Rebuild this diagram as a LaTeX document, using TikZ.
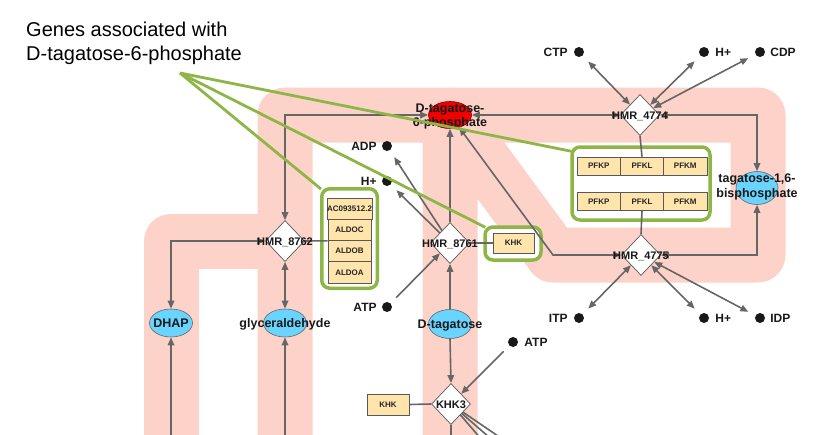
\documentclass[tikz,border=0pt]{standalone}
\usepackage{fontspec}
\setmainfont{Liberation Sans}
\usetikzlibrary{shapes.geometric,arrows.meta,positioning,calc}
\definecolor{pinkbg}{RGB}{253,210,200}
\definecolor{edgegray}{RGB}{102,102,102}
\definecolor{genefill}{RGB}{255,228,172}
\definecolor{groupgreen}{RGB}{141,182,70}
\definecolor{metblue}{RGB}{104,212,255}
\definecolor{metred}{RGB}{240,0,0}
\pgfdeclarelayer{bglayer}
\pgfdeclarelayer{grplayer}
\pgfdeclarelayer{edgelayer}
\pgfdeclarelayer{toplayer}
\pgfsetlayers{bglayer,grplayer,edgelayer,main,toplayer}
\begin{document}
\begin{tikzpicture}[x=1pt,y=-1pt,
  >={Triangle[length=8pt,width=6.5pt]},
  rxn/.style={diamond, draw=black!65, fill=white, minimum width=39pt, minimum height=41pt, inner sep=0pt, line width=0.7pt},
  rlab/.style={font=\bfseries\fontsize{11}{12}\selectfont, text=black!90, inner sep=0pt, anchor=base},
  met/.style={ellipse, draw=black!60, fill=metblue, minimum width=43pt, minimum height=28pt, inner sep=0pt, line width=0.6pt},
  mlab/.style={font=\bfseries\fontsize{12.5}{14}\selectfont, text=black!90, inner sep=0pt, align=center},
  dotn/.style={circle, fill=black!90, minimum size=10pt, inner sep=0pt},
  slab/.style={font=\bfseries\fontsize{12}{14}\selectfont, text=black!90, inner sep=0pt},
  gene/.style={rectangle, draw=black!65, fill=genefill, minimum width=43pt, minimum height=21.25pt, inner sep=0pt, font=\bfseries\fontsize{8}{9}\selectfont, text=black!85, line width=0.6pt},
  grp/.style={rectangle, rounded corners=8pt, draw=groupgreen, line width=3.5pt, fill=white, inner sep=0pt},
  ed/.style={draw=edgegray, line width=1.6pt},
  gline/.style={draw=groupgreen, line width=2.8pt},
  pinkpath/.style={draw=pinkbg, line width=55pt, line join=round}
]
\useasboundingbox (0,0) rectangle (837,434);

% ---------- title ----------
\node[anchor=base west, inner sep=0pt, font=\fontsize{20}{24}\selectfont] (title1) at (26,36) {Genes associated with};
\node[anchor=base west, inner sep=0pt, font=\fontsize{20}{24}\selectfont] (title2) at (26,60) {D-tagatose-6-phosphate};

% ---------- reactions ----------
\node[rxn] (r4774) at (640,115) {};
\node[rxn] (r4775) at (641,255) {};
\node[rxn] (r8762) at (285,241) {};
\node[rxn] (r8761) at (450,243) {};
\node[rxn] (khk3) at (451,404) {};
\node[rlab] (r4774L) at (640,119) {HMR\_4774};
\node[rlab] (r4775L) at (641,259) {HMR\_4775};
\node[rlab] (r8762L) at (285,245) {HMR\_8762};
\node[rlab] (r8761L) at (450,247) {HMR\_8761};
\node[rlab] (khk3L) at (451,408) {KHK3};

% ---------- metabolites ----------
\node[met, fill=metred, draw=red!50!black, minimum height=27pt] (t6p) at (450,115) {};
\node[met, minimum width=42pt, minimum height=33pt] (t16bp) at (757,188) {};
\node[met] (dhap) at (171,323) {};
\node[met] (glyc) at (285,323) {};
\node[met, minimum height=29pt] (dtag) at (450,324) {};
\node[mlab] (t6pL) at (450,116) {D-tagatose-\\6-phosphate};
\node[mlab, font=\bfseries\fontsize{12.5}{15}\selectfont] (t16bpL) at (757,187) {tagatose-1,6-\\bisphosphate};
\node[mlab, anchor=base] (dhapL) at (171,327.5) {DHAP};
\node[mlab, anchor=base] (glycL) at (285,327.5) {glyceraldehyde};
\node[mlab, anchor=base] (dtagL) at (450,328.5) {D-tagatose};

% ---------- small molecules ----------
\node[dotn] (ctp) at (579,52) {};
\node[dotn] (hp1) at (704,52) {};
\node[dotn] (cdp) at (760,52) {};
\node[dotn] (adp) at (387,146) {};
\node[dotn] (hp2) at (387,181) {};
\node[dotn] (atp1) at (387,307) {};
\node[dotn] (itp) at (579,318) {};
\node[dotn] (hp3) at (704,318) {};
\node[dotn] (idp) at (760,318) {};
\node[dotn] (atp2) at (513,342) {};
\node[slab, left=6pt of ctp] (ctpL) {CTP};
\node[slab, right=6pt of hp1] (hp1L) {H+};
\node[slab, right=5pt of cdp] (cdpL) {CDP};
\node[slab, left=5pt of adp] (adpL) {ADP};
\node[slab, left=5pt of hp2] (hp2L) {H+};
\node[slab, left=5pt of atp1] (atp1L) {ATP};
\node[slab, left=6pt of itp] (itpL) {ITP};
\node[slab, right=6pt of hp3] (hp3L) {H+};
\node[slab, right=5pt of idp] (idpL) {IDP};
\node[slab, right=6pt of atp2] (atp2L) {ATP};

% ---------- gene groups ----------
\begin{pgfonlayer}{grplayer}
\node[grp, minimum width=55.5pt, minimum height=99.5pt] (aldogrp) at (349.5,238.5) {};
\node[grp, minimum width=56pt, minimum height=33pt] (khkgrp) at (513,243.5) {};
\node[grp, minimum width=138pt, minimum height=73pt] (pfkgrp) at (641,183.5) {};
\end{pgfonlayer}

\node[gene] (aldo1) at (349.5,208.6) {AC093512.2};
\node[gene] (aldo2) at (349.5,229.9) {ALDOC};
\node[gene] (aldo3) at (349.5,251.1) {ALDOB};
\node[gene] (aldo4) at (349.5,272.4) {ALDOA};
\node[gene, minimum width=41pt, minimum height=20pt] (khk1) at (513.5,243) {KHK};
\node[gene, minimum width=42pt] (khk2) at (388,404.5) {KHK};
\node[gene, minimum width=43.3pt, minimum height=18pt] (pfkp1) at (598.7,166) {PFKP};
\node[gene, minimum width=43.3pt, minimum height=18pt] (pfkl1) at (642,166) {PFKL};
\node[gene, minimum width=43.3pt, minimum height=18pt] (pfkm1) at (685.3,166) {PFKM};
\node[gene, minimum width=43.3pt, minimum height=18pt] (pfkp2) at (598.7,201.5) {PFKP};
\node[gene, minimum width=43.3pt, minimum height=18pt] (pfkl2) at (642,201.5) {PFKL};
\node[gene, minimum width=43.3pt, minimum height=18pt] (pfkm2) at (685.3,201.5) {PFKM};

% ---------- free-end coordinates ----------
\coordinate (bend1) at (553,255);
\coordinate (dhapbot) at (171,445);
\coordinate (glycbot) at (285,445);
\coordinate (k3v) at (451,445);
\coordinate (k3a) at (482,440);
\coordinate (k3b) at (490,438);
\coordinate (k3c) at (498,436);
\coordinate (gsrc) at (180,73);

% ---------- pink pathway background ----------
\begin{pgfonlayer}{bglayer}
\draw[pinkpath] (171,460) -- (171,241) -- (285,241);
\draw[pinkpath] (285,460) -- (285,115) -- (758,115) -- (758,255) -- (553,255) -- (450,115) -- (450,460);
\end{pgfonlayer}

% ---------- connectors ----------
\begin{pgfonlayer}{edgelayer}
% HMR_4774
\draw[ed, <->, shorten <=8pt] (ctp) -- (r4774);
\draw[ed, <->, shorten <=8pt] (hp1) -- (r4774);
\draw[ed, <->, shorten <=8pt] (cdp) -- (r4774);
\draw[ed, <->] (t6p.east) -- (r4774.west);
\draw[ed, <->] (r4774.east) -| (t16bp.north);
\draw[ed] (r4774.south) -- (pfkl1.north);
% HMR_4775
\draw[ed] (pfkl2.south) -- (r4775.north);
\draw[ed, <->] (r4775.east) -| (t16bp.south);
\draw[ed, <->] (r4775.west) -- (bend1) -- (t6p);
\draw[ed, <->, shorten <=8pt] (itp) -- (r4775);
\draw[ed, <->, shorten <=8pt] (hp3) -- (r4775);
\draw[ed, <->, shorten <=8pt] (idp) -- (r4775);
% HMR_8761
\draw[ed, ->] (r8761.north) -- (t6p.south);
\draw[ed, ->, shorten >=8pt] (r8761) -- (adp);
\draw[ed, ->, shorten >=8pt] (r8761) -- (hp2);
\draw[ed, ->, shorten <=8pt] (atp1) -- (r8761);
\draw[ed, ->] (dtag.north) -- (r8761.south);
\draw[ed] (r8761.east) -- (khk1.west);
% HMR_8762
\draw[ed, <->] (t6p.west) -| (r8762.north);
\draw[ed, <->] (r8762.west) -| (dhap.north);
\draw[ed, <->] (r8762.south) -- (glyc.north);
\draw[ed] (r8762.east) -- (aldo2.south west);
\draw[ed, ->] (dhapbot) -- (dhap.south);
\draw[ed, ->] (glycbot) -- (glyc.south);
% KHK3
\draw[ed, ->] (dtag.south) -- (khk3.north);
\draw[ed, ->, shorten <=8pt] (atp2) -- (khk3);
\draw[ed] (khk2.east) -- (khk3.west);
\draw[ed] (khk3.south) -- (k3v);
\draw[ed] (khk3) -- (k3a);
\draw[ed] (khk3) -- (k3b);
\draw[ed] (khk3) -- (k3c);
\end{pgfonlayer}

% ---------- annotation lines ----------
\begin{pgfonlayer}{toplayer}
\draw[gline] (gsrc) -- ($(pfkgrp.north west)+(1,6)$);
\draw[gline] (gsrc) -- ($(khkgrp.north west)+(2,2)$);
\draw[gline] (gsrc) -- ($(aldogrp.north west)+(1,2)$);
\end{pgfonlayer}
\end{tikzpicture}
\end{document}
